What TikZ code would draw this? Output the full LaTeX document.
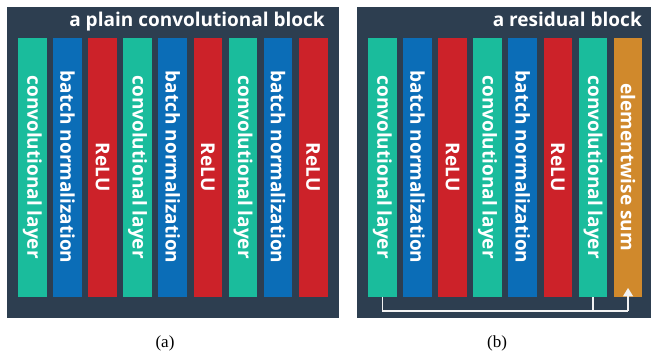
\documentclass[tikz,border=0pt]{standalone}
\usepackage{fontspec}
\setmainfont{Liberation Serif}
\newfontfamily\barfont{Open Sans}
\usetikzlibrary{arrows.meta}
\definecolor{panelbg}{HTML}{2D3E50}
\definecolor{convc}{HTML}{1ABC9C}
\definecolor{bnc}{HTML}{0B6DB7}
\definecolor{reluc}{HTML}{CC2229}
\definecolor{sumc}{HTML}{D0892C}
\definecolor{linec}{HTML}{F2F2F2}
\tikzset{
  panel/.style={fill=panelbg, draw=none, inner sep=0pt, anchor=north west},
  bar/.style={rotate=-90, minimum width=259pt, minimum height=28.7pt, inner sep=0pt,
     draw=none, text=white, font=\barfont\bfseries\fontsize{19}{22}\selectfont},
  conv/.style={bar, fill=convc},
  bn/.style={bar, fill=bnc},
  relu/.style={bar, fill=reluc},
  esum/.style={bar, fill=sumc},
  title/.style={text=white, font=\barfont\bfseries\fontsize{19}{22}\selectfont, inner sep=0pt, anchor=base east},
  caption/.style={font=\fontsize{17}{19}\selectfont, inner sep=0pt},
  skip/.style={draw=linec, line width=1.5pt},
}
\begin{document}
\begin{tikzpicture}[x=1pt,y=1pt]
\useasboundingbox (0,0) rectangle (652,356);
% panels
\node[panel, minimum width=332pt, minimum height=311pt] (pa) at (7,349) {};
\node[panel, minimum width=294pt, minimum height=311pt] (pb) at (357,349) {};
\node[title] (ta) at (325,329) {a plain convolutional block};
\node[title] (tb) at (642,329) {a residual block};
% plain block bars (centres)
\node[conv] (a1) at (32.35,188.8) {convolutional layer};
\node[bn]   (a2) at (67.45,188.8) {batch normalization};
\node[relu] (a3) at (102.55,188.8) {ReLU};
\node[conv] (a4) at (137.65,188.8) {convolutional layer};
\node[bn]   (a5) at (172.75,188.8) {batch normalization};
\node[relu] (a6) at (207.85,188.8) {ReLU};
\node[conv] (a7) at (242.95,188.8) {convolutional layer};
\node[bn]   (a8) at (278.05,188.8) {batch normalization};
\node[relu] (a9) at (313.15,188.8) {ReLU};
% residual block bars
\node[conv] (b1) at (382.35,188.8) {convolutional layer};
\node[bn]   (b2) at (417.45,188.8) {batch normalization};
\node[relu] (b3) at (452.55,188.8) {ReLU};
\node[conv] (b4) at (487.65,188.8) {convolutional layer};
\node[bn]   (b5) at (522.75,188.8) {batch normalization};
\node[relu] (b6) at (557.85,188.8) {ReLU};
\node[conv] (b7) at (592.95,188.8) {convolutional layer};
\node[esum] (b8) at (628.05,188.8) {elementwise sum};
% skip connection
\coordinate (s1) at ([yshift=-14pt]b1.east);
\coordinate (s7) at (b7.east |- s1);
\coordinate (s8) at (b8.east |- s1);
\coordinate (tip) at ([yshift=9pt]b8.east);
\draw[skip] (b1.east) -- (s1) -- (s8);
\draw[skip, -{Triangle[width=10pt,length=8.5pt]}] (s8) -- (tip);
\draw[skip] (b7.east) -- (s7);
% captions
\node[caption] (ca) at (165,13) {(a)};
\node[caption] (cb) at (497,13) {(b)};
\end{tikzpicture}
\end{document}
